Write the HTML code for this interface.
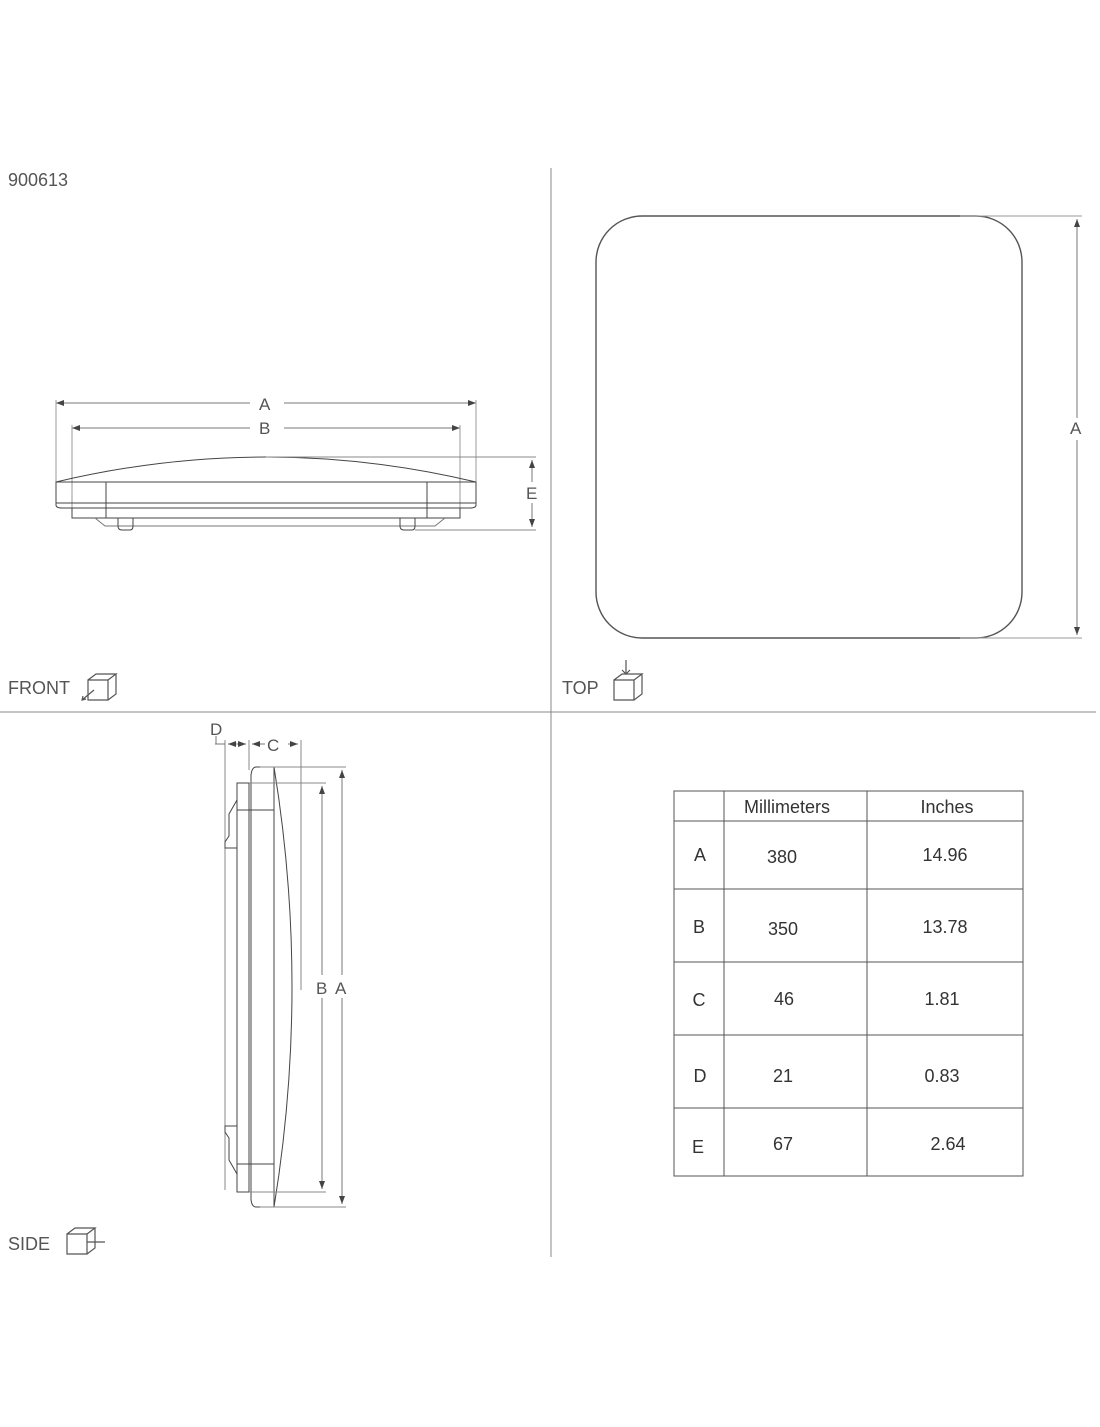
<!DOCTYPE html>
<html><head><style>
body{margin:0;background:#fff;width:1100px;height:1422px;overflow:hidden}
svg text{font-family:"Liberation Sans",sans-serif;fill:#555}
</style></head><body>
<svg width="1100" height="1422" viewBox="0 0 1100 1422" xmlns="http://www.w3.org/2000/svg">
<defs>
<marker id="ar" markerWidth="8" markerHeight="6" refX="8" refY="3" orient="auto-start-reverse"><path d="M0,0 L8,3 L0,6z" fill="#444"/></marker>
</defs>
<g stroke="#888" stroke-width="1" fill="none">
<line x1="551" y1="168" x2="551" y2="1257"/>
<line x1="0" y1="712" x2="1096" y2="712"/>
</g>
<text x="8" y="186" font-size="18">900613</text>
<text x="8" y="694" font-size="18">FRONT</text>
<text x="562" y="694" font-size="18">TOP</text>
<text x="8" y="1250" font-size="18">SIDE</text>
<g stroke="#555" fill="none" stroke-width="1.2">
<path d="M88,680 h20 v20 h-20z M88,680 l8,-6 h20 l-8,6 M108,700 l8,-6 v-20"/>
<path d="M82,700 l12,-10 M86,699 l-4,1 1,-4"/>
<path d="M614,680 h20 v20 h-20z M614,680 l8,-6 h20 l-8,6 M634,700 l8,-6 v-20"/>
<path d="M626,660 v14 M622,670 l4,4 4,-4"/>
<path d="M67,1234 h20 v20 h-20z M67,1234 l8,-6 h20 l-8,6 M87,1254 l8,-6 v-20 M87,1242 h18"/>
</g>
<g stroke="#444" stroke-width="1" fill="none">
<line x1="56" y1="403" x2="250" y2="403" stroke="#777" marker-start="url(#ar)"/>
<line x1="284" y1="403" x2="476" y2="403" stroke="#777" marker-end="url(#ar)"/>
<line x1="72" y1="428" x2="250" y2="428" stroke="#777" marker-start="url(#ar)"/>
<line x1="284" y1="428" x2="460" y2="428" stroke="#777" marker-end="url(#ar)"/>
<line x1="56" y1="400" x2="56" y2="482" stroke="#999"/>
<line x1="476" y1="400" x2="476" y2="482" stroke="#999"/>
<line x1="72" y1="425" x2="72" y2="518" stroke="#999"/>
<line x1="460" y1="425" x2="460" y2="518" stroke="#999"/>
<path d="M56,482 Q266,432 476,482"/>
<path d="M56,482 H476 V505 Q476,508 470,508 H62 Q56,508 56,505Z"/>
<line x1="56" y1="503" x2="476" y2="503"/>
<rect x="72" y="508" width="388" height="10"/>
<line x1="106" y1="482" x2="106" y2="518"/>
<line x1="427" y1="482" x2="427" y2="518"/>
<path d="M95,518 l10,8 h330 l10,-8" stroke="#777"/>
<path d="M118,518 v8 q0,4 4,4 h8 q3,0 3,-4 v-8"/>
<path d="M400,518 v8 q0,4 4,4 h8 q3,0 3,-4 v-8"/>
<line x1="266" y1="457" x2="536" y2="457" stroke="#888"/>
<line x1="415" y1="530" x2="536" y2="530" stroke="#888"/>
<line x1="532" y1="460" x2="532" y2="482" stroke="#777" marker-start="url(#ar)"/>
<line x1="532" y1="503" x2="532" y2="527" stroke="#777" marker-end="url(#ar)"/>
</g>
<text x="259" y="410" font-size="17">A</text>
<text x="259" y="434" font-size="17">B</text>
<text x="526" y="499" font-size="17">E</text>
<g fill="none" stroke="#555">
<rect x="596" y="216" width="426" height="422" rx="46" stroke-width="1.4"/>
<line x1="960" y1="216" x2="1082" y2="216" stroke="#999"/>
<line x1="960" y1="638" x2="1082" y2="638" stroke="#999"/>
<line x1="1077" y1="219" x2="1077" y2="418" stroke="#777" marker-start="url(#ar)"/>
<line x1="1077" y1="440" x2="1077" y2="635" stroke="#777" marker-end="url(#ar)"/>
</g>
<text x="1070" y="434" font-size="17">A</text>
<g stroke="#444" fill="none" stroke-width="1">
<line x1="225" y1="740" x2="225" y2="1190" stroke="#888"/>
<line x1="249" y1="740" x2="249" y2="770" stroke="#888"/>
<line x1="301" y1="740" x2="301" y2="990" stroke="#888"/>
<line x1="215" y1="744" x2="225" y2="744" stroke="#777"/>
<line x1="228" y1="744" x2="246" y2="744" stroke="#777" marker-start="url(#ar)" marker-end="url(#ar)"/>
<line x1="252" y1="744" x2="265" y2="744" stroke="#777" marker-start="url(#ar)"/>
<line x1="288" y1="744" x2="298" y2="744" stroke="#777" marker-end="url(#ar)"/>
<line x1="216" y1="736" x2="216" y2="744" stroke="#777"/>
<rect x="237" y="783" width="12" height="409"/>
<path d="M249,783 V1192 M251,775 V1200"/>
<path d="M251,775 Q252,767 256,767 H274 V1207 H256 Q252,1207 251,1200"/>
<path d="M274,767 Q310,987 274,1207"/>
<path d="M237,810 H274 M237,1164 H274"/>
<path d="M237,800 l-8,14 v22 l-4,6 v6 h12"/>
<path d="M237,1174 l-8,-14 v-22 l-4,-6 v-6 h12"/>
<line x1="260" y1="767" x2="346" y2="767" stroke="#888"/>
<line x1="260" y1="1207" x2="346" y2="1207" stroke="#888"/>
<line x1="249" y1="783" x2="326" y2="783" stroke="#888"/>
<line x1="249" y1="1192" x2="326" y2="1192" stroke="#888"/>
<line x1="342" y1="770" x2="342" y2="975" stroke="#777" marker-start="url(#ar)"/>
<line x1="342" y1="998" x2="342" y2="1204" stroke="#777" marker-end="url(#ar)"/>
<line x1="322" y1="786" x2="322" y2="975" stroke="#777" marker-start="url(#ar)"/>
<line x1="322" y1="998" x2="322" y2="1189" stroke="#777" marker-end="url(#ar)"/>
</g>
<text x="210" y="735" font-size="17">D</text>
<text x="267" y="751" font-size="17">C</text>
<text x="316" y="994" font-size="17">B</text>
<text x="335" y="994" font-size="17">A</text>
<g stroke="#555" fill="none" stroke-width="1">
<rect x="674" y="791" width="349" height="385"/>
<line x1="724" y1="791" x2="724" y2="1176"/>
<line x1="867" y1="791" x2="867" y2="1176"/>
<line x1="674" y1="821" x2="1023" y2="821"/>
<line x1="674" y1="889" x2="1023" y2="889"/>
<line x1="674" y1="962" x2="1023" y2="962"/>
<line x1="674" y1="1035" x2="1023" y2="1035"/>
<line x1="674" y1="1108" x2="1023" y2="1108"/>
</g>
<g font-size="18">
<text x="787" y="813" text-anchor="middle" style="fill:#333">Millimeters</text>
<text x="947" y="813" text-anchor="middle" style="fill:#333">Inches</text>
<text x="700" y="861" text-anchor="middle" style="fill:#333">A</text>
<text x="782" y="863" text-anchor="middle" style="fill:#333">380</text>
<text x="945" y="861" text-anchor="middle" style="fill:#333">14.96</text>
<text x="699" y="933" text-anchor="middle" style="fill:#333">B</text>
<text x="783" y="935" text-anchor="middle" style="fill:#333">350</text>
<text x="945" y="933" text-anchor="middle" style="fill:#333">13.78</text>
<text x="699" y="1006" text-anchor="middle" style="fill:#333">C</text>
<text x="784" y="1005" text-anchor="middle" style="fill:#333">46</text>
<text x="942" y="1005" text-anchor="middle" style="fill:#333">1.81</text>
<text x="700" y="1082" text-anchor="middle" style="fill:#333">D</text>
<text x="783" y="1082" text-anchor="middle" style="fill:#333">21</text>
<text x="942" y="1082" text-anchor="middle" style="fill:#333">0.83</text>
<text x="698" y="1153" text-anchor="middle" style="fill:#333">E</text>
<text x="783" y="1150" text-anchor="middle" style="fill:#333">67</text>
<text x="948" y="1150" text-anchor="middle" style="fill:#333">2.64</text>
</g>
</svg>
</body></html>
